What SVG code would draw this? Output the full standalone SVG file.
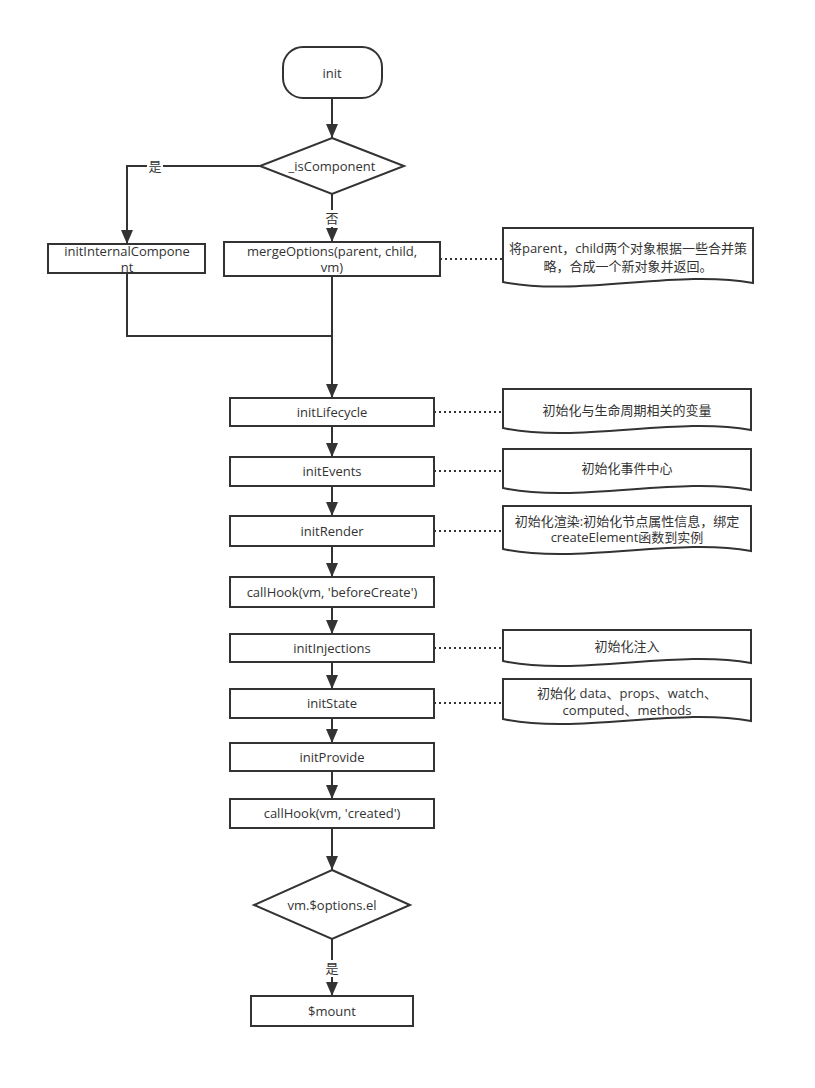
<svg xmlns="http://www.w3.org/2000/svg" width="815" height="1088" viewBox="0 0 815 1088">
<style>
.shape{fill:#fff;stroke:#333;stroke-width:2}
.t{font-family:"Open Sans","Noto Sans CJK SC",sans-serif;font-size:13px;fill:#333;text-anchor:middle;dominant-baseline:central}
.c{fill:none;stroke:#333;stroke-width:2}
.d{fill:none;stroke:#333;stroke-width:2;stroke-dasharray:2 3}
.lbl{fill:#fff}
</style>
<defs>
<marker id="ah" markerUnits="userSpaceOnUse" markerWidth="14" markerHeight="12" refX="14" refY="6" orient="auto">
<path d="M0,0 L14,6 L0,12 Z" fill="#333"/>
</marker>
</defs>
<rect width="815" height="1088" fill="#fff"/>
<g id="connectors">
<path class="c" d="M332,98 V138" marker-end="url(#ah)"/>
<path class="c" d="M260,166 H127 V244" marker-end="url(#ah)"/>
<path class="c" d="M332,194 V242" marker-end="url(#ah)"/>
<path class="c" d="M127,273 V336 H332"/>
<path class="c" d="M332,276 V398" marker-end="url(#ah)"/>
<path class="c" d="M332,426 V457" marker-end="url(#ah)"/>
<path class="c" d="M332,486 V516" marker-end="url(#ah)"/>
<path class="c" d="M332,546 V577" marker-end="url(#ah)"/>
<path class="c" d="M332,607 V634" marker-end="url(#ah)"/>
<path class="c" d="M332,662 V689" marker-end="url(#ah)"/>
<path class="c" d="M332,718 V743" marker-end="url(#ah)"/>
<path class="c" d="M332,771 V799" marker-end="url(#ah)"/>
<path class="c" d="M332,828 V870" marker-end="url(#ah)"/>
<path class="c" d="M332,939 V996" marker-end="url(#ah)"/>
<path class="d" d="M440,259 H503"/>
<path class="d" d="M434,412 H503"/>
<path class="d" d="M434,471 H503"/>
<path class="d" d="M434,531 H503"/>
<path class="d" d="M434,648 H503"/>
<path class="d" d="M434,703 H503"/>
<rect class="lbl" x="147" y="158" width="16" height="17"/>
<text class="t" x="155" y="166">是</text>
<rect class="lbl" x="324" y="210" width="16" height="17"/>
<text class="t" x="332" y="218">否</text>
<rect class="lbl" x="324" y="960" width="16" height="17"/>
<text class="t" x="332" y="968">是</text>
</g>
<g id="init"><rect class="shape" x="283" y="47" width="99" height="51" rx="20"/><text class="t" x="332" y="73">init</text></g>
<g id="isComponent"><path class="shape" d="M332,138 L404,166 L332,194 L260,166 Z"/><text class="t" x="332" y="166">_isComponent</text></g>
<g id="initInternalComponent"><rect class="shape" x="48" y="244" width="157" height="29"/><text class="t" x="127" y="251">initInternalCompone</text><text class="t" x="127" y="267">nt</text></g>
<g id="mergeOptions"><rect class="shape" x="224" y="242" width="216" height="34"/><text class="t" x="332" y="251">mergeOptions(parent, child,</text><text class="t" x="332" y="267">vm)</text></g>
<g id="note-merge"><path class="shape" d="M503,228 H753 V283 C678,269 578,297 503,282 Z"/><text class="t" x="628" y="248">将parent，child两个对象根据一些合并策</text><text class="t" x="628" y="266">略，合成一个新对象并返回。</text></g>
<g id="initLifecycle"><rect class="shape" x="230" y="398" width="204" height="28"/><text class="t" x="332" y="412">initLifecycle</text></g>
<g id="note-lifecycle"><path class="shape" d="M503,389 H751 V430 C677,416 577,444 503,428 Z"/><text class="t" x="627" y="410">初始化与生命周期相关的变量</text></g>
<g id="initEvents"><rect class="shape" x="230" y="457" width="204" height="29"/><text class="t" x="332" y="471">initEvents</text></g>
<g id="note-events"><path class="shape" d="M503,449 H751 V490 C677,476 577,504 503,488 Z"/><text class="t" x="627" y="468">初始化事件中心</text></g>
<g id="initRender"><rect class="shape" x="230" y="516" width="204" height="30"/><text class="t" x="332" y="531">initRender</text></g>
<g id="note-render"><path class="shape" d="M503,506 H751 V551 C677,537 577,565 503,549 Z"/><text class="t" x="627" y="521">初始化渲染:初始化节点属性信息，绑定</text><text class="t" x="627" y="537">createElement函数到实例</text></g>
<g id="beforeCreate"><rect class="shape" x="230" y="577" width="204" height="30"/><text class="t" x="332" y="592">callHook(vm, 'beforeCreate')</text></g>
<g id="initInjections"><rect class="shape" x="230" y="634" width="204" height="28"/><text class="t" x="332" y="648">initInjections</text></g>
<g id="note-injections"><path class="shape" d="M503,630 H751 V663 C677,649 577,677 503,661 Z"/><text class="t" x="627" y="646">初始化注入</text></g>
<g id="initState"><rect class="shape" x="230" y="689" width="204" height="29"/><text class="t" x="332" y="703">initState</text></g>
<g id="note-state"><path class="shape" d="M503,679 H751 V721 C677,707 577,735 503,719 Z"/><text class="t" x="627" y="693">初始化 data、props、watch、</text><text class="t" x="627" y="710">computed、methods</text></g>
<g id="initProvide"><rect class="shape" x="230" y="743" width="204" height="28"/><text class="t" x="332" y="757">initProvide</text></g>
<g id="created"><rect class="shape" x="230" y="799" width="204" height="29"/><text class="t" x="332" y="813">callHook(vm, 'created')</text></g>
<g id="optionsEl"><path class="shape" d="M332,870 L410,905 L332,939 L254,905 Z"/><text class="t" x="332" y="905">vm.$options.el</text></g>
<g id="mount"><rect class="shape" x="251" y="996" width="162" height="30"/><text class="t" x="332" y="1011">$mount</text></g>
</svg>
